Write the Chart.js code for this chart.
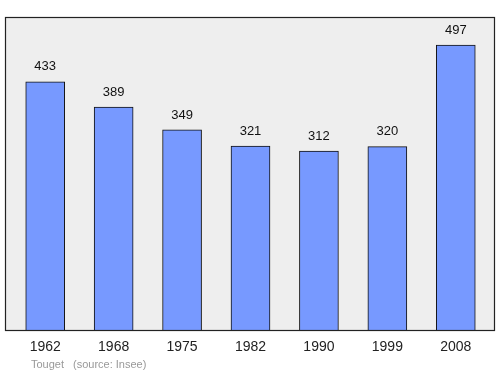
<!DOCTYPE html>
<html>
<head>
<meta charset="utf-8">
<script src="https://cdn.jsdelivr.net/npm/chart.js@4/dist/chart.umd.min.js"></script>
<style>
  html, body { margin: 0; padding: 0; background: #fff; }
  #wrap { width: 500px; height: 374px; position: relative; }
</style>
</head>
<body>
<div id="wrap"><canvas id="popChart" width="500" height="374"></canvas></div>
<script>
// data
const years = ['1962', '1968', '1975', '1982', '1990', '1999', '2008'];
const population = [433, 389, 349, 321, 312, 320, 497];
const footerPlace = 'Touget';
const footerSource = '(source: Insee)';

const FONT = '"Liberation Sans", Arial, sans-serif';

// grey frame behind the bars
const framePlugin = {
    id: 'frame',
    beforeDraw(chart) {
        const { ctx, chartArea } = chart;
        const x0 = chartArea.left - 6, x1 = chartArea.right + 5;
        const y0 = chartArea.top, y1 = chartArea.bottom;
        ctx.save();
        ctx.fillStyle = '#eeeeee';
        ctx.fillRect(x0, y0, x1 - x0, y1 - y0);
        ctx.restore();
    },
    afterDatasetsDraw(chart) {
        const { ctx, chartArea } = chart;
        const x0 = chartArea.left - 6, x1 = chartArea.right + 5;
        ctx.save();
        ctx.strokeStyle = '#222';
        ctx.lineWidth = 1.2;
        ctx.strokeRect(x0 + 0.5, chartArea.top + 0.5, x1 - x0 - 1, chartArea.bottom - chartArea.top);
        ctx.restore();
    }
};

// value labels above bars, year labels under the frame, footer
const labelsPlugin = {
    id: 'labels',
    afterDraw(chart) {
        const { ctx, chartArea } = chart;
        const meta = chart.getDatasetMeta(0);
        const xScale = chart.scales.x;
        ctx.save();
        ctx.textAlign = 'center';
        ctx.textBaseline = 'middle';
        ctx.fillStyle = '#111';
        ctx.font = '13px ' + FONT;
        meta.data.forEach((bar, i) => {
            ctx.fillText(String(population[i]), bar.x, bar.y - 15);
        });
        ctx.font = '14px ' + FONT;
        ctx.fillStyle = '#222';
        years.forEach((y, i) => {
            ctx.fillText(y, xScale.getPixelForValue(i), chartArea.bottom + 17);
        });
        ctx.textAlign = 'left';
        ctx.font = '11px ' + FONT;
        ctx.fillStyle = '#999';
        ctx.fillText(footerPlace, 31, chartArea.bottom + 35);
        ctx.fillText(footerSource, 73, chartArea.bottom + 35);
        ctx.restore();
    }
};

new Chart(document.getElementById('popChart'), {
    type: 'bar',
    data: {
        labels: years,
        datasets: [{
            data: population,
            backgroundColor: '#7799ff',
            borderColor: '#111',
            borderWidth: 1,
            barThickness: 39
        }]
    },
    options: {
        responsive: false,
        animation: false,
        layout: { padding: { left: 11, right: 10, top: 17, bottom: 44 } },
        plugins: {
            legend: { display: false },
            tooltip: { enabled: false }
        },
        scales: {
            x: { display: false },
            y: { display: false, min: 0, max: 546 }
        }
    },
    plugins: [framePlugin, labelsPlugin]
});
</script>
</body>
</html>
